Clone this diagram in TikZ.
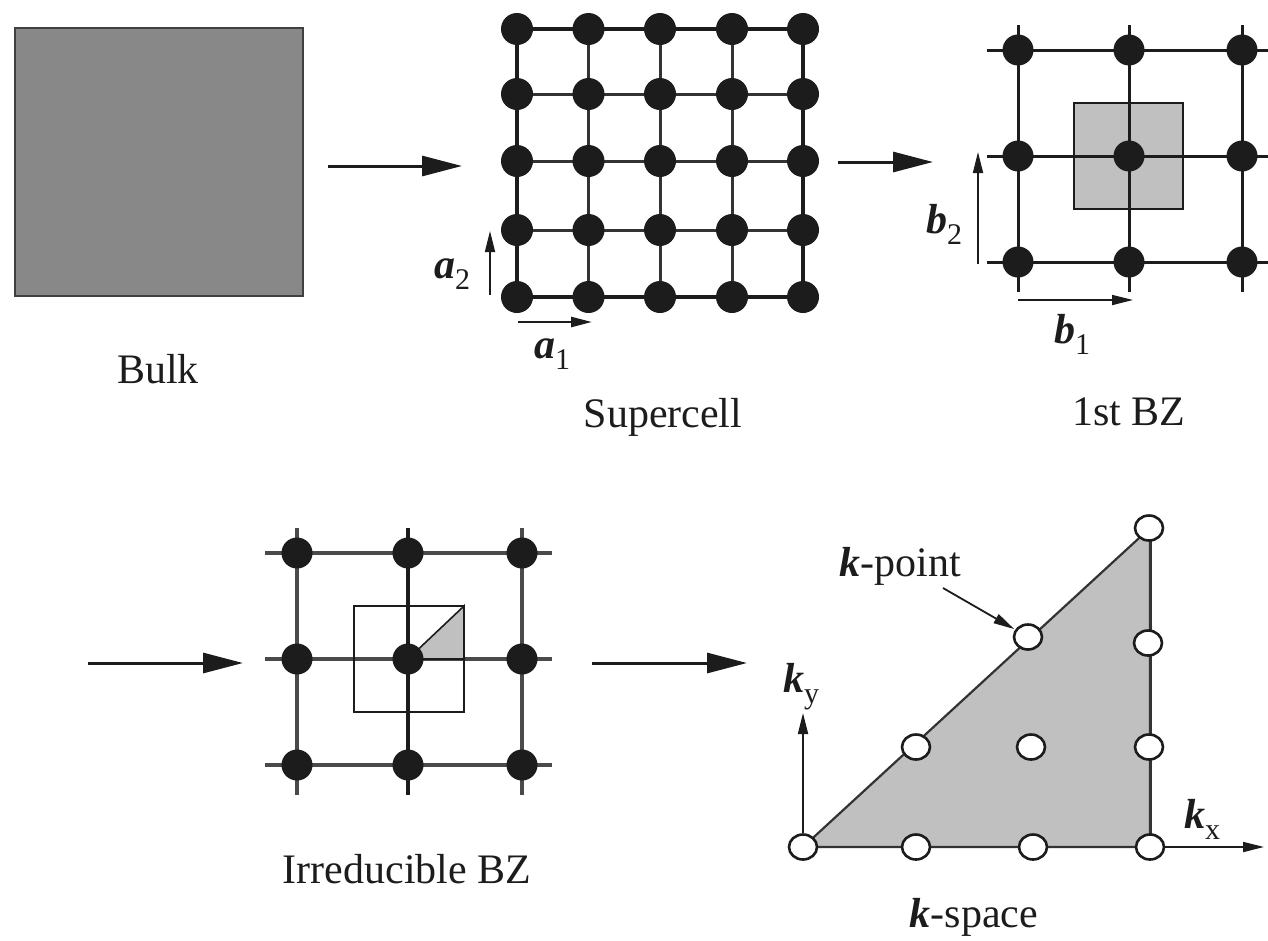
\documentclass[tikz,border=0pt]{standalone}
\usepackage{fontspec}
\setmainfont{Liberation Serif}
\usetikzlibrary{arrows.meta,shapes.geometric}
\definecolor{bulkgray}{HTML}{888888}
\definecolor{lightg}{HTML}{C0C0C0}
\definecolor{ink}{HTML}{1C1C1C}
\definecolor{gridg}{HTML}{4A4A4A}
\newcommand{\bv}[1]{{\bfseries\itshape #1}}
\newcommand{\sbs}[1]{\raisebox{-0.27em}{\fontsize{30}{30}\selectfont #1}}
\tikzset{
  lbl/.style={font=\fontsize{42}{48}\selectfont, inner sep=0pt, text=ink},
  dot/.style={circle, fill=ink, inner sep=0pt, minimum size=32pt},
  kpt/.style={ellipse, draw=ink, line width=2.6pt, fill=white, inner sep=0pt, minimum width=28pt, minimum height=25pt},
  bigarrow/.style={draw=ink, line width=3pt, -{Triangle[length=40pt,width=20pt]}},
  smallarrow/.style={draw=ink, line width=1.7pt, -{Triangle[length=21pt,width=10pt]}},
  outerline/.style={draw=ink, line width=4pt},
  innerline/.style={draw=ink!90, line width=3pt},
  bzline/.style={draw=ink, line width=3pt},
  irrline/.style={draw=gridg, line width=3.3pt},
}
\begin{document}
\begin{tikzpicture}[x=1pt,y=-1pt]
\useasboundingbox (0,0) rectangle (1268,940);

% ---------- Bulk ----------
\node[draw=black!75, line width=2.5pt, fill=bulkgray, inner sep=0pt,
      minimum width=288pt, minimum height=268pt] (bulk) at (159,162) {};
\node[lbl, anchor=base] (bulklbl) at (158,383) {Bulk};

% arrow 1
\coordinate (a1s) at (328,166);
\coordinate (a1e) at (462,166);
\draw[bigarrow] (a1s) -- (a1e);

% ---------- Supercell ----------
\def\SX{{517,588.5,660,732,803}}
\def\SY{{29,94,161,230,297}}
\foreach \i in {0,...,4}{
  \foreach \j in {0,...,4}{
    \pgfmathsetmacro{\xx}{\SX[\i]}
    \pgfmathsetmacro{\yy}{\SY[\j]}
    \coordinate (s\i\j) at (\xx,\yy);
  }
}
\foreach \j in {1,2,3}{
  \draw[innerline] (s0\j) -- (s4\j);
}
\foreach \i in {1,2,3}{
  \draw[innerline] (s\i0) -- (s\i4);
}
\draw[outerline] (s00) -- (s40) -- (s44) -- (s04) -- cycle;
\foreach \i in {0,...,4}{
  \foreach \j in {0,...,4}{
    \node[dot] (sd\i\j) at (s\i\j) {};
  }
}
\coordinate (a2s) at (490,295);
\coordinate (a2e) at (490,231);
\draw[smallarrow] (a2s) -- (a2e);
\coordinate (a1vs) at (518,322);
\coordinate (a1ve) at (592,322);
\draw[smallarrow, line width=2.6pt] (a1vs) -- (a1ve);
\node[lbl, anchor=base] (a2lbl) at (452,278) {\bv{a}\sbs{2}};
\node[lbl, anchor=base] (a1lbl) at (552,358) {\bv{a}\sbs{1}};
\node[lbl, anchor=base] (sclbl) at (663,427) {Supercell};

% arrow 2
\coordinate (b2s) at (838,162);
\coordinate (b2e) at (933,162);
\draw[bigarrow] (b2s) -- (b2e);

% ---------- 1st BZ ----------
\def\BX{{1018,1129,1242}}
\def\BY{{50,156,262}}
\node[draw=ink, line width=2.2pt, fill=lightg, inner sep=0pt,
      minimum width=109pt, minimum height=106pt] (bz) at (1128.5,156) {};
\foreach \j in {0,1,2}{
  \pgfmathsetmacro{\yy}{\BY[\j]}
  \coordinate (bh\j l) at (987,\yy);
  \coordinate (bh\j r) at (1268,\yy);
  \draw[bzline] (bh\j l) -- (bh\j r);
}
\foreach \i in {0,1,2}{
  \pgfmathsetmacro{\xx}{\BX[\i]}
  \coordinate (bv\i t) at (\xx,25);
  \coordinate (bv\i b) at (\xx,292);
  \draw[bzline] (bv\i t) -- (bv\i b);
}
\foreach \i in {0,1,2}{
  \foreach \j in {0,1,2}{
    \pgfmathsetmacro{\xx}{\BX[\i]}
    \pgfmathsetmacro{\yy}{\BY[\j]}
    \node[dot, minimum size=31pt] (bd\i\j) at (\xx,\yy) {};
  }
}
\coordinate (bb2s) at (978,264);
\coordinate (bb2e) at (978,152);
\draw[smallarrow] (bb2s) -- (bb2e);
\coordinate (bb1s) at (1018,300);
\coordinate (bb1e) at (1133,300);
\draw[smallarrow] (bb1s) -- (bb1e);
\node[lbl, anchor=base] (b2lbl) at (944,233) {\bv{b}\sbs{2}};
\node[lbl, anchor=base] (b1lbl) at (1072,343) {\bv{b}\sbs{1}};
\node[lbl, anchor=base] (bzlbl) at (1129,425) {1st BZ};

% arrow 3
\coordinate (c1s) at (88,663);
\coordinate (c1e) at (243,663);
\draw[bigarrow] (c1s) -- (c1e);

% ---------- Irreducible BZ ----------
\def\IX{{297,408,522}}
\def\IY{{553,659,765}}
\foreach \j in {0,1,2}{
  \pgfmathsetmacro{\yy}{\IY[\j]}
  \coordinate (ih\j l) at (265,\yy);
  \coordinate (ih\j r) at (552,\yy);
  \draw[irrline] (ih\j l) -- (ih\j r);
}
\foreach \i in {0,1,2}{
  \pgfmathsetmacro{\xx}{\IX[\i]}
  \coordinate (iv\i t) at (\xx,528);
  \coordinate (iv\i b) at (\xx,795);
  \draw[irrline] (iv\i t) -- (iv\i b);
}
\draw[draw=ink, line width=3.3pt] (iv1t) -- (iv1b);
\node[draw=ink, line width=1.8pt, inner sep=0pt,
      minimum width=110pt, minimum height=106pt] (ibz) at (409,659) {};
\coordinate (t0) at (408,659);
\coordinate (t1) at (464,606);
\coordinate (t2) at (464,659);
\draw[draw=ink, line width=1.6pt, fill=lightg] (t0) -- (t1) -- (t2) -- cycle;
\foreach \i in {0,1,2}{
  \foreach \j in {0,1,2}{
    \pgfmathsetmacro{\xx}{\IX[\i]}
    \pgfmathsetmacro{\yy}{\IY[\j]}
    \node[dot, minimum size=31pt] (id\i\j) at (\xx,\yy) {};
  }
}
\node[lbl, anchor=base] (irrlbl) at (407,883) {Irreducible BZ};

% arrow 4
\coordinate (c2s) at (592,663);
\coordinate (c2e) at (747,663);
\draw[bigarrow] (c2s) -- (c2e);

% ---------- k-space ----------
\coordinate (k0) at (803,847);
\coordinate (k1) at (1150,847);
\coordinate (k2) at (1150,528);
\draw[draw=black!80, line width=2.2pt, fill=lightg] (k0) -- (k1) -- (k2) -- cycle;
\draw[draw=black!80, line width=3pt] (k1) -- (k2);
% axes
\node[kpt] (p00) at (803,847) {};
\coordinate (kyend) at (803,713);
\draw[smallarrow, line width=1.8pt] (p00) -- (kyend);
\node[kpt] (p30) at (1150,847) {};
\coordinate (kxend) at (1264,847);
\draw[smallarrow, line width=1.8pt] (p30) -- (kxend);
\node[kpt] (p10) at (916,847) {};
\node[kpt] (p20) at (1033,847) {};
\node[kpt] (p11) at (916,747) {};
\node[kpt] (p21) at (1031,747) {};
\node[kpt] (p31) at (1149,747) {};
\node[kpt] (p22) at (1028,637) {};
\node[kpt] (p32) at (1148,643) {};
\node[kpt] (p33) at (1149,528) {};
\coordinate (kparr) at (943,588);
\draw[smallarrow, line width=1.8pt, shorten >=1pt] (kparr) -- (p22);
\node[lbl, anchor=base] (kylbl) at (801,692) {\bv{k}\sbs{y}};
\node[lbl, anchor=base] (kxlbl) at (1202,828) {\bv{k}\sbs{x}};
\node[lbl, anchor=base] (kplbl) at (900,576) {\bv{k}-point};
\node[lbl, anchor=base] (kslbl) at (974,927) {\bv{k}-space};
\end{tikzpicture}
\end{document}
